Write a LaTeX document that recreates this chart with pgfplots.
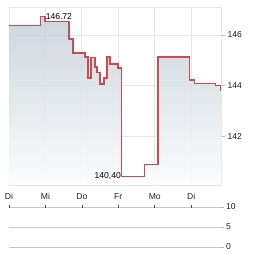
\documentclass[border=0pt]{standalone}
\usepackage{fontspec}
\setmainfont{Liberation Sans}
\usepackage{pgfplots}
\pgfplotsset{compat=1.18}
\definecolor{gridc}{RGB}{230,230,230}
\definecolor{linec}{RGB}{205,75,78}
\definecolor{filltop}{RGB}{196,207,216}
\definecolor{fillbot}{RGB}{252,252,252}
\definecolor{txt}{RGB}{30,30,30}
\pgfplotstableread{
x y
0 146.38
0.871 146.72
0.989 146.55
1.648 145.84
1.758 145.29
2.088 145.13
2.170 144.30
2.253 145.10
2.363 144.73
2.418 144.53
2.500 144.06
2.610 144.30
2.692 145.13
2.775 144.85
2.995 144.69
3.09 140.40
3.709 140.86
4.093 145.13
4.945 144.22
5.082 144.07
5.659 143.99
5.797 143.80
5.82 143.80
}\price
\begin{document}
\begin{tikzpicture}[x=1bp,y=1bp]
\useasboundingbox (0,0) rectangle (264,255);
\begin{axis}[
  at={(9bp,70bp)}, anchor=south west,
  scale only axis, width=212bp, height=178bp,
  xmin=0, xmax=5.82, ymin=140.06, ymax=147.11,
  axis line style={draw=gridc},
  grid style={draw=gridc, line width=0.8bp},
  xmajorgrids, ymajorgrids,
  xtick={0,1,2,3,4,5},
  xticklabels={Di,Mi,Do,Fr,Mo,Di},
  ytick={142,144,146},
  ytick pos=right, xtick pos=bottom,
  tick align=outside,
  x tick style={draw=none},
  y tick style={draw=gridc!80!black, line width=0.6bp},
  major tick length=4bp,
  tick label style={font=\fontsize{8.6}{10}\selectfont, text=txt},
  yticklabel style={anchor=west, xshift=-1bp},
  xticklabel style={yshift=-1bp},
  /pgf/number format/assume math mode=true,
  clip=false,
]
\addplot[const plot, fill opacity=0.85, draw=none, top color=filltop, bottom color=fillbot, forget plot] table[x=x,y=y] {\price} \closedcycle;
\addplot[const plot, draw=linec, fill=none, mark=none, line width=1.2bp] table[x=x,y=y] {\price};
\node[anchor=west, inner sep=0.5bp, font=\fontsize{8.6}{10}\selectfont, text=black] at (axis cs:0.99,146.72) {146.72};
\node[anchor=east, inner sep=0.5bp, font=\fontsize{8.6}{10}\selectfont, text=black] at (axis cs:3.09,140.40) {140,40};
\end{axis}
\begin{axis}[
  at={(9bp,8bp)}, anchor=south west,
  scale only axis, width=212bp, height=40bp,
  xmin=0, xmax=5.82, ymin=0, ymax=10,
  axis line style={draw=none},
  axis x line*=top, axis y line*=right,
  grid style={draw=black!22, line width=0.7bp},
  ymajorgrids,
  xtick={0,1,2,3,4,5}, xticklabels={},
  ytick={0,5,10},
  x tick style={draw=black!70, line width=0.6bp},
  y tick style={draw=black!30, line width=0.7bp},
  xtick align=center, ytick align=outside,
  major tick length=3bp,
  tick label style={font=\fontsize{8.6}{10}\selectfont, text=txt},
  yticklabel style={anchor=west, xshift=-1.5bp},
  /pgf/number format/assume math mode=true,
  clip=false,
]
\addplot[draw=none] coordinates {(0,0) (5.82,10)};
\end{axis}
\end{tikzpicture}
\end{document}
